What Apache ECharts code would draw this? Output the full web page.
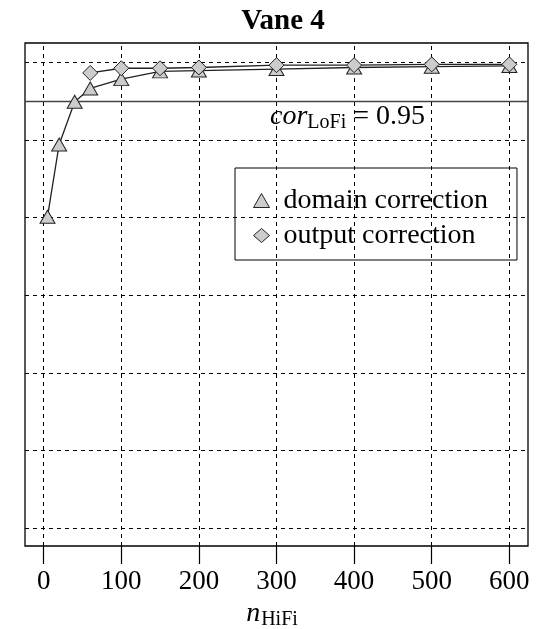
<!DOCTYPE html>
<html>
<head>
<meta charset="utf-8">
<script src="https://cdn.jsdelivr.net/npm/echarts@6/dist/echarts.min.js"></script>
<style>
  html, body { margin: 0; padding: 0; background: #fff; }
  #chart { width: 539px; height: 629px; }
</style>
</head>
<body>
<div id="chart"></div>
<script>
// Number of high-fidelity samples and the resulting correlation
const nDomain = [5, 20, 40, 60, 100, 150, 200, 300, 400, 500, 600];
const corDomain = [0.801, 0.894, 0.949, 0.966, 0.978, 0.988, 0.989, 0.991, 0.993, 0.994, 0.995];
const nOutput = [60, 100, 150, 200, 300, 400, 500, 600];
const corOutput = [0.986, 0.992, 0.992, 0.993, 0.996, 0.996, 0.997, 0.997];
const corLoFi = 0.95;

// Axis ticks / grid positions
const xTicks = [0, 100, 200, 300, 400, 500, 600];
const yGrid = [1.0, 0.9, 0.8, 0.7, 0.6, 0.5, 0.4];

const SERIF = 'Liberation Serif';
const LINE = '#222';
const FILL = '#cccccc';

const pairs = (xs, ys) => xs.map((x, i) => [x, ys[i]]);

const chart = echarts.init(document.getElementById('chart'), null, { renderer: 'canvas' });

const gridDash = { color: '#000', width: 1, type: [4, 4] };

chart.setOption({
  animation: false,
  backgroundColor: '#fff',
  textStyle: { fontFamily: SERIF, color: '#000' },
  title: {
    text: 'Vane 4',
    left: 278,
    textAlign: 'center',
    top: 2,
    textStyle: { fontFamily: SERIF, fontWeight: 'bold', fontSize: 29, color: '#000' }
  },
  grid: {
    left: 25, right: 11, top: 43, bottom: 83,
    outerBoundsMode: 'none',
    containLabel: false,
    show: true, borderColor: '#000', borderWidth: 1.3, backgroundColor: 'transparent'
  },
  legend: {
    left: 235,
    top: 168,
    orient: 'vertical',
    borderColor: '#000',
    borderWidth: 1,
    borderRadius: 0,
    padding: [18, 29, 10, 18],
    itemGap: 6,
    itemWidth: 16,
    itemHeight: 14,
    selectedMode: false,
    textStyle: { fontFamily: SERIF, fontSize: 28, color: '#000', padding: [0, 0, 0, 9], lineHeight: 29 },
    data: [
      { name: 'domain correction', icon: 'triangle', itemStyle: { color: FILL, borderColor: LINE, borderWidth: 1 } },
      { name: 'output correction', icon: 'diamond', itemStyle: { color: FILL, borderColor: LINE, borderWidth: 1 } }
    ]
  },
  xAxis: {
    type: 'value',
    min: -24,
    max: 624,
    axisLine: { show: false },
    splitLine: { show: false },
    axisTick: {
      show: true, inside: false, length: 18, customValues: xTicks,
      lineStyle: { color: '#000', width: 1.2 }
    },
    axisLabel: {
      customValues: xTicks, margin: 22,
      fontFamily: SERIF, fontSize: 27, color: '#000'
    },
    name: '{i|n}{s|HiFi}',
    nameLocation: 'middle',
    nameGap: 43,
    nameTextStyle: {
      padding: [0, 9, 0, 0],
      rich: {
        i: { fontFamily: SERIF, fontStyle: 'italic', fontSize: 28, color: '#000' },
        s: { fontFamily: SERIF, fontSize: 20, color: '#000', padding: [12, 0, 0, 1] }
      }
    }
  },
  yAxis: {
    type: 'value',
    min: 0.3773,
    max: 1.0245,
    axisLine: { show: false },
    axisTick: { show: false },
    axisLabel: { show: false },
    splitLine: { show: false }
  },
  series: [
    {
      // dashed grid lines and the low-fidelity reference level
      type: 'line',
      data: [],
      z: 1,
      silent: true,
      markLine: {
        z: 1,
        silent: true,
        symbol: 'none',
        animation: false,
        label: { show: false },
        data: [
          ...xTicks.map(v => ({ xAxis: v, lineStyle: gridDash })),
          ...yGrid.map(v => ({ yAxis: v, lineStyle: gridDash })),
          {
            yAxis: corLoFi,
            lineStyle: { color: '#444', width: 1.3, type: 'solid' },
            label: {
              show: true,
              position: 'insideStartBottom',
              distance: 0,
              padding: [0, 0, 0, 245],
              formatter: '{i|cor}{s|LoFi}{n| = ' + corLoFi.toFixed(2) + '}',
              rich: {
                i: { fontFamily: SERIF, fontStyle: 'italic', fontSize: 28, color: '#000' },
                s: { fontFamily: SERIF, fontSize: 20, color: '#000', padding: [12, 0, 0, 0] },
                n: { fontFamily: SERIF, fontSize: 28, color: '#000' }
              }
            }
          }
        ]
      }
    },
    {
      name: 'domain correction',
      type: 'line',
      z: 3,
      data: pairs(nDomain, corDomain),
      symbol: 'triangle',
      symbolSize: [15, 13],
      lineStyle: { color: LINE, width: 1.3 },
      itemStyle: { color: FILL, borderColor: LINE, borderWidth: 1 }
    },
    {
      name: 'output correction',
      type: 'line',
      z: 4,
      data: pairs(nOutput, corOutput),
      symbol: 'diamond',
      symbolSize: [15, 15],
      lineStyle: { color: LINE, width: 1.3 },
      itemStyle: { color: FILL, borderColor: LINE, borderWidth: 1 }
    }
  ]
});
</script>
</body>
</html>
